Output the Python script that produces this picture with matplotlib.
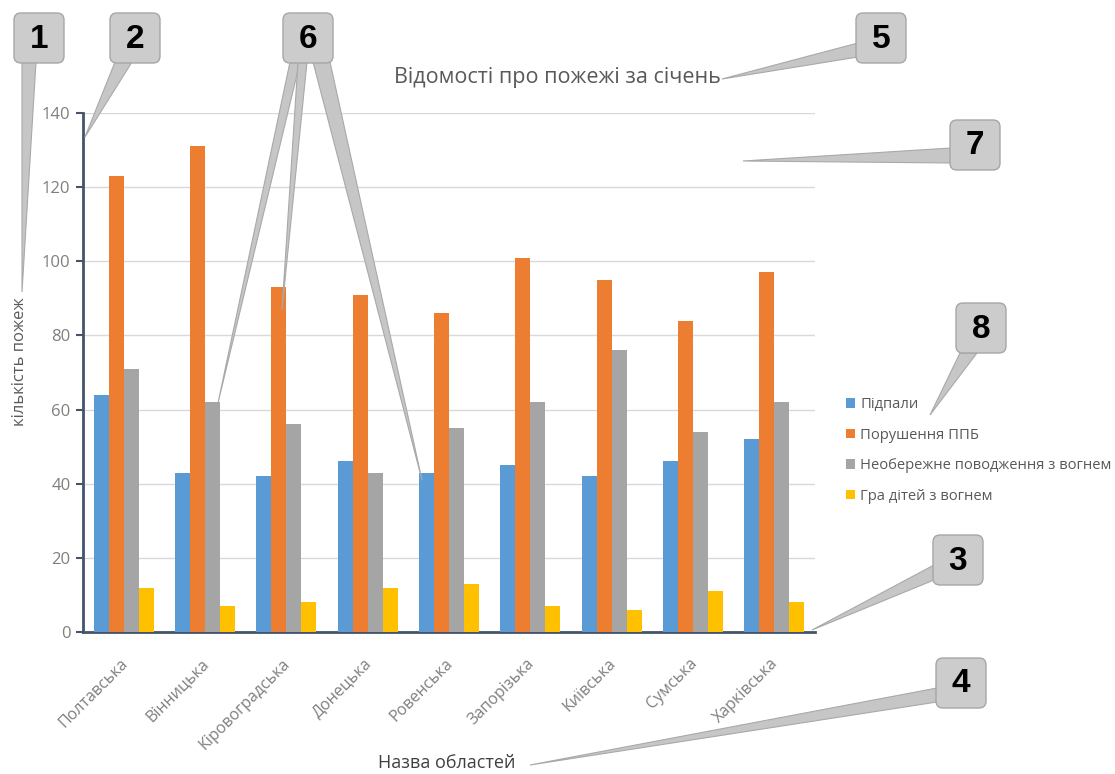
import matplotlib
matplotlib.use("Agg")
import matplotlib.pyplot as plt
import matplotlib.transforms as mtransforms
import numpy as np
from matplotlib.patches import FancyBboxPatch, Polygon

regions = ["Полтавська", "Вінницька", "Кіровоградська", "Донецька", "Ровенська",
           "Запорізька", "Київська", "Сумська", "Харківська"]
arson = [64, 43, 42, 46, 43, 45, 42, 46, 52]
ppb = [123, 131, 93, 91, 86, 101, 95, 84, 97]
careless = [71, 62, 56, 43, 55, 62, 76, 54, 62]
children = [12, 7, 8, 12, 13, 7, 6, 11, 8]
series_names = ["Підпали", "Порушення ППБ", "Необережне поводження з вогнем", "Гра дітей з вогнем"]
series_colors = ["#5B9BD5", "#ED7D31", "#A5A5A5", "#FFC000"]
title = "Відомості про пожежі за січень"
ylabel = "кількість пожеж"
xlabel = "Назва областей"
yticks = [0, 20, 40, 60, 80, 100, 120, 140]

W, H = 1115, 774
plt.rcParams['font.family'] = ['Open Sans', 'DejaVu Sans']
fig = plt.figure(figsize=(W / 100, H / 100), dpi=100)
fig.patch.set_facecolor("white")

L, R, T, B = 83, 815, 113, 632
ax = fig.add_axes([L / W, 1 - B / H, (R - L) / W, (B - T) / H])
ax.set_facecolor("none")

x = np.arange(len(regions))
bw = 0.185
data = [arson, ppb, careless, children]
bars = []
for i, (vals, c, n) in enumerate(zip(data, series_colors, series_names)):
    b = ax.bar(x + (i - 1.5) * bw, vals, bw, color=c, label=n, zorder=3)
    bars.append(b)

ax.set_xlim(-0.5, len(regions) - 0.5)
ax.set_ylim(0, 140)
ax.set_yticks(yticks)
ax.yaxis.grid(True, color="#d9d9d9", lw=1, zorder=0)
ax.set_axisbelow(True)
for s in ["top", "right"]:
    ax.spines[s].set_visible(False)
for s in ["left", "bottom"]:
    ax.spines[s].set_color("#44546A")
    ax.spines[s].set_linewidth(2)
ax.tick_params(axis="y", colors="#44546A", length=5, width=1.5, labelcolor="#7f7f7f", labelsize=12, pad=4)
ax.tick_params(axis="x", length=0, labelcolor="#7f7f7f", labelsize=11.5, pad=17)
ax.set_xticks(x)
ax.set_xticklabels(regions, rotation=45, ha="right", va="top", rotation_mode="anchor")
off = mtransforms.ScaledTranslation(-4 / 100, 0, fig.dpi_scale_trans)
for lab in ax.get_xticklabels():
    lab.set_transform(lab.get_transform() + off)

# overlay in pixel coordinates
ov = fig.add_axes([0, 0, 1, 1])
ov.set_xlim(0, W)
ov.set_ylim(H, 0)
ov.axis("off")
ov.patch.set_alpha(0)

ov.text(557, 77, title, ha="center", va="center", fontsize=15.5, color="#595959")
ov.text(20, 362, ylabel, ha="center", va="center", rotation=90, fontsize=12, color="#595959")
ov.text(447, 763, xlabel, ha="center", va="center", fontsize=13, color="#404040")

leg = fig.legend(handles=bars, labels=series_names, loc="upper left",
                 bbox_to_anchor=(839 / W, 1 - 390 / H), frameon=False,
                 fontsize=10.6, handlelength=0.6, handleheight=0.6, handletextpad=0.35,
                 labelspacing=1.05, borderpad=0)
for t in leg.get_texts():
    t.set_color("#595959")

# callouts
pointer_fc = "#c6c6c6"
pointer_ec = "#a9a9a9"
pointers = [
    [(22, 62), (36, 62), (22, 292)],
    [(115, 62), (132, 62), (85, 137)],
    [(290, 62), (300, 62), (218, 403)],
    [(298, 62), (307, 62), (282, 310)],
    [(313, 62), (330, 62), (422, 480)],
    [(858, 43), (858, 57), (722, 79)],
    [(951, 148), (951, 163), (743, 161)],
    [(960, 353), (977, 353), (930, 415)],
    [(934, 565), (934, 580), (812, 630)],
    [(937, 688), (937, 702), (530, 765)],
]
for p in pointers:
    ov.add_patch(Polygon(p, closed=True, fc=pointer_fc, ec=pointer_ec, lw=0.8, zorder=5))

boxes = [("1", 14, 13), ("2", 110, 13), ("6", 283, 13), ("5", 856, 13),
         ("7", 950, 120), ("8", 956, 303), ("3", 933, 535), ("4", 936, 658)]
bwid, bhgt = 50, 50
for lab, bx, by in boxes:
    ov.add_patch(FancyBboxPatch((bx + 4, by + 4), bwid - 8, bhgt - 8,
                                boxstyle="round,pad=4,rounding_size=7",
                                fc="#cccccc", ec="#a6a6a6", lw=1, zorder=6))
    ov.text(bx + bwid / 2, by + bhgt / 2 + 1, lab, ha="center", va="center",
            fontsize=24, fontweight="bold", family="Liberation Sans", color="black", zorder=7)

fig.savefig("out.png", dpi=100)
